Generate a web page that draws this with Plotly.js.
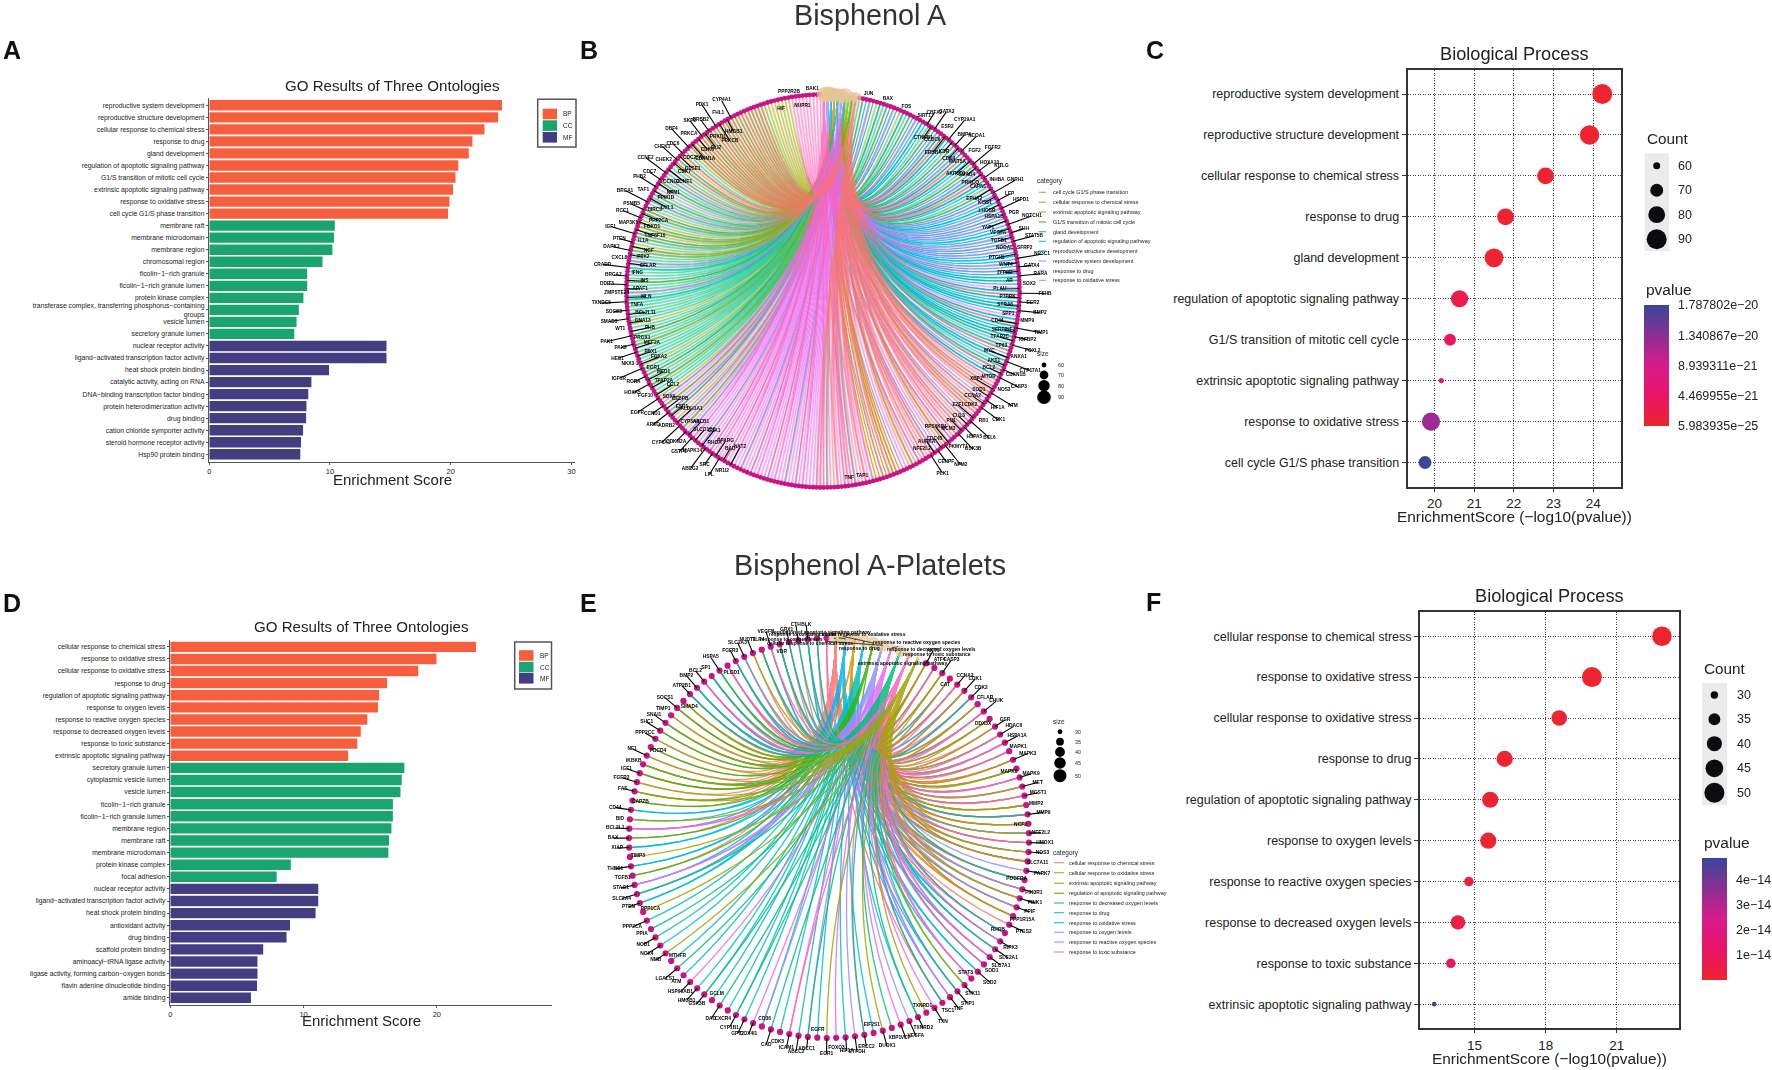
<!DOCTYPE html>
<html>
<head>
<meta charset="utf-8">
<script src="https://cdn.plot.ly/plotly-3.0.1.min.js"></script>
<style>html,body{margin:0;padding:0;background:#fff}#chart{width:1772px;height:1070px}</style>
</head>
<body>
<div id="chart"></div>
<script>
// ---------- DATA: panel A ----------
const termsA = ["reproductive system development","reproductive structure development","cellular response to chemical stress","response to drug","gland development","regulation of apoptotic signaling pathway","G1/S transition of mitotic cell cycle","extrinsic apoptotic signaling pathway","response to oxidative stress","cell cycle G1/S phase transition",
"membrane raft","membrane microdomain","membrane region","chromosomal region","ficolin−1−rich granule","ficolin−1−rich granule lumen","protein kinase complex","transferase complex, transferring phosphorus−containing<br>groups","vesicle lumen","secretory granule lumen",
"nuclear receptor activity","ligand−activated transcription factor activity","heat shock protein binding","catalytic activity, acting on RNA","DNA−binding transcription factor binding","protein heterodimerization activity","drug binding","cation chloride symporter activity","steroid hormone receptor activity","Hsp90 protein binding"];
const scoresA = [24.25,23.93,22.8,21.8,21.5,20.63,20.4,20.2,19.9,19.78,10.4,10.33,10.2,9.38,8.11,8.11,7.8,7.42,7.23,7.04,14.68,14.68,9.92,8.46,8.2,8.05,8.02,7.77,7.6,7.54];
// ---------- DATA: panel D ----------
const termsD = ["cellular response to chemical stress","response to oxidative stress","cellular response to oxidative stress","response to drug","regulation of apoptotic signaling pathway","response to oxygen levels","response to reactive oxygen species","response to decreased oxygen levels","response to toxic substance","extrinsic apoptotic signaling pathway",
"secretory granule lumen","cytoplasmic vesicle lumen","vesicle lumen","ficolin−1−rich granule","ficolin−1−rich granule lumen","membrane region","membrane raft","membrane microdomain","protein kinase complex","focal adhesion",
"nuclear receptor activity","ligand−activated transcription factor activity","heat shock protein binding","antioxidant activity","drug binding","scaffold protein binding","aminoacyl−tRNA ligase activity","ligase activity, forming carbon−oxygen bonds","flavin adenine dinucleotide binding","amide binding"];
const scoresD = [22.93,19.97,18.6,16.27,15.67,15.58,14.78,14.29,14.03,13.34,17.56,17.36,17.27,16.7,16.7,16.59,16.41,16.36,9.04,7.98,11.1,11.1,10.9,8.98,8.72,6.97,6.54,6.54,6.51,6.05];
const ontologies = ["BP","CC","MF"];
// ---------- DATA: panels C and F ----------
const termsC = termsA.slice(0,10);
const enrichC = [24.23,23.91,22.8,21.79,21.5,20.63,20.39,20.17,19.91,19.76];
const countC = [90,88,80,80,86,81,68,58,84,70];
const pvalC_e21 = [0.0006,0.0012,0.016,0.16,0.32,2.3,4.0,6.8,12.3,17.4];
const countKeyC = [60,70,80,90];
const pTicksC = [0.0006,4.47,8.94,13.41,17.878];
const pLabelsC = ["5.983935e−25","4.469955e−21","8.939311e−21","1.340867e−20","1.787802e−20"];
const termsF = termsD.slice(0,10);
const enrichF = [22.9,19.95,18.57,16.27,15.66,15.58,14.76,14.3,14.0,13.3];
const countF = [49,50,41,42,42,42,32,39,32,28];
const pvalF_e14 = [0,0.001,0.00003,0.0054,0.022,0.026,0.17,0.5,1.0,4.84];
const countKeyF = [30,35,40,45,50];
const pTicksF = [1,2,3,4];
const pLabelsF = ["1e−14","2e−14","3e−14","4e−14"];
// ---------- DATA: network B (gene sectors run clockwise from the hubs; digits = category index) ----------
const categoriesB = ["cell cycle G1/S phase transition","cellular response to chemical stress","extrinsic apoptotic signaling pathway","G1/S transition of mitotic cell cycle","gland development","regulation of apoptotic signaling pathway","reproductive structure development","reproductive system development","response to drug","response to oxidative stress"];
const hubOrderB = [9,7,6,1,5,8,4,2,3,0];
const drawOrderB = [7,6,1,4,5,3,2,8,9,0];
const hubCountB = [70,80,58,68,86,81,88,90,80,84];
const sectorCountsB = [19,28,24,19,12,16,22,8,18,38,14,26,16,14,11,9,24,8,9];
const sectorLinksB = [
 "4 62 6 84 6 2 64","64 6 4 62 6 84 64 09","6 68 6 65 6 84 6 69","6 65 64 6 8 65 07 64","47 5 47 40 7 65","07 0 07 02 09 0 7",
 "07 09 0 08 0 79 0 03 0 8 7","1 01 12 08 1 07 1","08 8 09 0 8 04 89 08","8 8 89 8 81 8 8 84 8 8 89 8 81","84 8 42 8 84 2 8 14",
 "4 4 4 42 4 4 41 4 4 2 4 4","4 4 45 4 48 4 4 41 4","25 52 2 5 25 51 2","5 50 5 52 5 0 5 52","20 5 2 50 52 0","03 03 03 02 03","3 2 2 2 2 2 2 2","9"];
const labelsLeftB = ["CYP4A1","HMGB1","FHL1","PRKCB","PDK1","PRKD1","ERBB2","GLI2","SKP2","CDK6","PRKCA","CDKN1A","DBF4","CDC25A","CDC6","GTSE1","CHEK1","CDK7","CHEK2","CCNE1","CCNE2","CCNG2","CDC7","NPM1","PHB2","PPM1D","TAF1","CUL1","BRCA1","BIRC5","PSMB5","PPP2CA","RCC1","FOXO1","MAP3K5","TNFSF10","IGF1","IL1A","PTEN","NGF","DAPK2","PTK2","CXCL8","CFLAR","CRADD","IFNG","BRCA2","INS","DDIT3","APAF1","ZMPSTE24","MLN","TXNDC5","TNFA","SOCS3","BCL2L11","SMAD3","GNA13","WT1","PHB","PAK1","PROX1","PAX2","MEF2A","HES1","PBX1","NKX3-1","FOXA2","IGF1R","EGR1","RORA","MED1","HOXA5","TFAP2A","FGF10","CCL2","EGFR","SOX9","CCND1","CEBPB","AREG","ESR1","ADRB2","ALDH1A1","CYP1A1","CYP3A4","CDKN2A","ABCB1","GSTP1","SLCO1B1","MAPK14","GJA1","ABCG2","RHOA","SRC","PPARG","LPL","BAD","NR1I2","NAT2"];
const labelsRightB = ["CBFA2","CTNNB1","GATA3","CCDC6","ESR2","ERBB4","CYP19A1","KDR","BMP4","CDK4","NCOA1","WNT5A","FGF2","AKR1C3","FGFR2","SMAD4","HOXA10","PRKCQ","KITLG","CAPN1","INHBA","EPHA2","GNRH1","KISS1","LEP","LHCGR","HSPD1","HSPA1B","PGR","YAP1","NOTCH1","VEGFA","SHH","TGFB1","STAT5B","NODAL","SFRP2","PTCH1","NR3C1","WNT4","GATA4","ZFPM2","RARA","AR","SOX2","PLAU","FSHB","PTPRK","EGR2","STRA8","BMP2","SPP1","MMP9","CD44","TIMP1","SERPINE1","IGFBP2","TFAP2C","FOXL2","TP63","ANXA1","MYC","CYP17A1","AKT1","CDKN1B","BCL2","CASP3","MTOR","NOS3","XBP1","ATM","SOD1","HIF1A","CCNA2","CDK1","CDK2","RB1","E2F1","BCL6","CUL3","HSPA5","PML","GSK3B","MCM3","PKMYT1","RPS6KB1","NPM2","CDC45","CENPF","AURKA","PLK1","NFE2L2"];
const labelsTopRightB = ["JUN","BAX","FOS","SIRT1"];
const labelsTopLeftB = ["HIF","PPP2R2B","NUPR1","BAK1"];
const labelsBottomB = ["TNF","TAP1"];
const sizeKeyB = [60,70,80,90];
// ---------- DATA: network E (one link string per gene, clockwise from the hubs) ----------
const categoriesE = ["cellular response to chemical stress","cellular response to oxidative stress","extrinsic apoptotic signaling pathway","regulation of apoptotic signaling pathway","response to decreased oxygen levels","response to drug","response to oxidative stress","response to oxygen levels","response to reactive oxygen species","response to toxic substance"];
const hubOrderE = [0,6,1,5,3,7,8,4,9,2];
const hubCountE = [49,41,28,42,39,42,50,42,32,32];
const genesE = ["AKT1","ATF4","CASP3","CAT","CCNA2","CDK1","CDK2","CFLAR","CHUK","DDX3X","GSR","HDAC6","HSPA1A","MAPK1","MAPK3","MAPK8","MAPK9","MET","MGST1","MMP2","MMP9","NCF2","NFE2L2","HMOX1","NOS3","SLC7A11","PARK7","PDGFRA","PIK3R1","PINK1","PPIF","PPP1R15A","PTGS2","RHOB","RIPK3","SLC2A1","SLC7A1","SOD1","SOD2","STAT3","STK11","STIP1","TNF","TSC1","TXN","TXNRD1","TXNRD2","VEGFA","VCP","XBP1","DUOX1","EIF2S1","ERCC2","ETFDH","HIF1A","FOXO3","EGR1","EGFR","ABCC1","ABCC2","ICAM1","CDK5","CAD","CD36","COX4I1","GPT2","CYP1B1","CXCR4","DAO","GCLM","GSK3B","HMGB1","HSP90AB1","ATM","LGALS1","MTHFR","NMB","NOX4","NOD1","PPIA","PPP2CA","PPP1CA","PTEN","SLC2A4","STAG1","TGFB1","THBS1","TIMP3","XIAP","BAX","BCL2L1","BID","CD44","CAPZB","FAS","FGFR2","IGF1","IKBKB","NF1","PDCD4","PPP2CC","SHC1","SNAI1","TIMP1","SOCS1","SMAD4","ATP2B1","BMP2","BCL2","SP1","HSPA5","PLOD1","FGFR3","SLC2A3","NUDT1","TLR4","VEGFB","VDR","GPX1","CTH","BLK"];
const linksE = ["0239","0169","0216","0269","0169","0269","0478","1269","01679","0216","029","0169",
 "01689","0169","0129","0216","01689","0278","0169","0216","01468","0129","0267",
 "0169","0127","01269","7","01468","0167","1268","0167","0129",
 "0","0478","569","457","0689","479","56","689","24","467","678","048",
 "8","2","45","7","8","4","2","5","48","7","5","8","2","5","47","5","89","5","4","57","8","5","45",
 "5","4","5","45","5","8","5","4","5","2","5","5","4","5","2",
 "56","457","678","03","56","2","56","03","689","25","56","03",
 "023","02","013","0234","02","03","02","03","0234","02","013","023",
 "0347","0467","0689","0347","034","0389","0467","037","02","0347","069","0347","047","04","0467","047","09"];
const sizeKeyE = [30,35,40,45,50];

// ---------- STYLE AND LAYOUT ----------
const W=1772,H=1070;
const fx=p=>p/W, fy=p=>1-p/H;
const FONT='"Liberation Sans", Arial, sans-serif';
const INK='#222';
const ontoColors=['#F55F3D','#1AA56F','#443D82'];
const hue=["#F8766D","#D89000","#A3A500","#39B600","#00BF7D","#00BFC4","#00B0F6","#9590FF","#E76BF3","#FF62BC"];
const nodeColor='#C71585', hubColor='#E5C494';
const pScale=[[0,'#ee2430'],[0.25,'#ea1466'],[0.5,'#d81b8c'],[0.75,'#8a2f92'],[1,'#37479c']];
const dotC=c=>Math.sqrt(Math.max(14,49+11.7*(c-60)));
const dotF=c=>Math.sqrt(Math.max(14,56+17.2*(c-30)));

const traces=[], shapes=[], annotations=[];
const layout={width:W,height:H,margin:{l:0,r:0,t:0,b:0,pad:0},paper_bgcolor:'#fff',plot_bgcolor:'rgba(0,0,0,0)',
  showlegend:false,hovermode:false,font:{family:FONT,color:INK}};

function text(t,x,y,size,opt={}){
  annotations.push(Object.assign({text:t,xref:'paper',yref:'paper',x:fx(x),y:fy(y),showarrow:false,xanchor:'center',yanchor:'middle',font:{size:size,family:FONT,color:INK}},opt));
}
function rect(x0,y0,x1,y1,fill,line,lw){
  shapes.push({type:'rect',xref:'paper',yref:'paper',x0:fx(x0),x1:fx(x1),y0:fy(y1),y1:fy(y0),fillcolor:fill,line:{color:line||fill,width:lw||0},layer:'above'});
}
function circle(cx,cy,d,fill){
  shapes.push({type:'circle',xref:'paper',yref:'paper',x0:fx(cx-d/2),x1:fx(cx+d/2),y0:fy(cy+d/2),y1:fy(cy-d/2),fillcolor:fill,line:{width:0},layer:'above'});
}

// bar panels
function barPanel(n,terms,scores,box,rowRange,xmax,ticks,titleY,keyBox,keySw,keyTextX,keyRows,xTitleY){
  const xa='xaxis'+(n===1?'':n), ya='yaxis'+(n===1?'':n), xr='x'+(n===1?'':n), yr='y'+(n===1?'':n);
  ontologies.forEach((o,k)=>{
    traces.push({type:'bar',orientation:'h',name:o,xaxis:xr,yaxis:yr,x:scores.slice(k*10,k*10+10),y:terms.slice(k*10,k*10+10),width:0.86,
      marker:{color:ontoColors[k],line:{color:ontoColors[k],width:0}}});
  });
  layout[xa]={domain:[fx(box[0]),fx(box[1])],range:[0,xmax],anchor:yr,tickvals:ticks,ticktext:ticks.map(String),tickfont:{size:7.5,family:FONT,color:INK},ticks:'outside',ticklen:2,tickcolor:'#555',
    showgrid:false,zeroline:false,showline:true,linecolor:'#555',linewidth:1.5,automargin:false};
  layout[ya]={domain:[fy(box[3]),fy(box[2])],type:'category',categoryorder:'array',categoryarray:terms,range:rowRange,anchor:xr,tickfont:{size:6.8,family:FONT,color:INK},ticks:'outside',ticklen:2,tickcolor:'#555',
    showgrid:false,zeroline:false,showline:true,linecolor:'#555',linewidth:1.5,automargin:false,tickmode:'array',tickvals:terms,ticktext:terms};
  text('GO Results of Three Ontologies',(box[4]),titleY,15.1);
  text('Enrichment Score',box[4],xTitleY,15);
  rect(keyBox[0],keyBox[1],keyBox[2],keyBox[3],'rgba(255,255,255,0)','#555',1.5);
  ontologies.forEach((o,k)=>{
    rect(keySw[0],keyRows[k],keySw[1],keyRows[k]+10.6,ontoColors[k]);
    text(o,keyTextX,keyRows[k]+5.3,6.5,{xanchor:'left'});
  });
}
barPanel(1,termsA,scoresA,[209.3,575,98.3,461.7,392],[29.615,-0.58],30.3,[0,10,20,30],85.7,[537.7,99.3,576,147],[542.7,557],561.4,[108.7,120.3,132],479.7);
barPanel(4,termsD,scoresD,[170.3,551.9,640.3,1004.6,361],[29.56,-0.54],28.63,[0,10,20],626.7,[514.7,642,551.5,689],[519,533.5],537.7,[650.2,661.8,673],1020);

// dot panels
function dotPanel(n,terms,enrich,counts,colorVals,cmax,box,xrange,ticks,rowRange,dot,key,pTicks,pLabels,barBox,titleX,titleY,xTitleY){
  const xr='x'+n,yr='y'+n;
  traces.push({type:'scatter',mode:'markers',xaxis:xr,yaxis:yr,x:enrich,y:terms,name:'Biological Process',
    marker:{size:counts.map(dot),color:colorVals,colorscale:pScale,cmin:0,cmax:cmax,line:{width:0},opacity:1,showscale:true,
      colorbar:{x:fx(barBox[0]),xanchor:'left',y:fy(barBox[3]),yanchor:'bottom',len:barBox[3]-barBox[2],lenmode:'pixels',thickness:barBox[1]-barBox[0],thicknessmode:'pixels',
        tickmode:'array',tickvals:pTicks,ticktext:pLabels,ticks:'outside',ticklen:7,tickcolor:'rgba(0,0,0,0)',outlinewidth:0,xpad:0,ypad:0,tickfont:{size:12.5,family:FONT,color:INK}}}});
  const barH=barBox[3]-barBox[2];
  pTicks.forEach(v=>{
    const yy=barBox[3]-v/cmax*barH;
    [[barBox[0],barBox[0]+5],[barBox[1]-5,barBox[1]]].forEach(seg=>{
      shapes.push({type:'line',xref:'paper',yref:'paper',x0:fx(seg[0]),x1:fx(seg[1]),y0:fy(yy),y1:fy(yy),line:{color:'rgba(255,255,255,0.75)',width:1},layer:'above'});
    });
  });
  text('pvalue',barBox[0],barBox[2]-16,15.5,{xanchor:'left'});
  const gridDash='1px,1.5px';
  layout['xaxis'+n]={domain:[fx(box[0]),fx(box[1])],range:xrange,anchor:yr,tickvals:ticks,ticktext:ticks.map(String),tickfont:{size:13.5,family:FONT,color:INK},ticks:'outside',ticklen:3,tickcolor:'#333',
    showgrid:true,griddash:gridDash,gridcolor:'#444',gridwidth:1,zeroline:false,showline:true,mirror:true,linecolor:'#333',linewidth:2,automargin:false};
  layout['yaxis'+n]={domain:[fy(box[3]),fy(box[2])],type:'category',categoryorder:'array',categoryarray:terms,range:rowRange,anchor:xr,tickfont:{size:12.5,family:FONT,color:INK},ticks:'outside',ticklen:4,tickcolor:'#333',
    showgrid:true,griddash:gridDash,gridcolor:'#444',gridwidth:1,zeroline:false,showline:true,mirror:true,linecolor:'#333',linewidth:2,automargin:false};
  text('Biological Process',titleX,titleY,18.2);
  text('EnrichmentScore (−log10(pvalue))',titleX,xTitleY,15.4);
  rect(key.bg[0],key.bg[1],key.bg[2],key.bg[3],'#EBEBEB');
  text('Count',key.bg[0],key.titleY,15.3,{xanchor:'left'});
  key.counts.forEach((c,i)=>{
    circle(key.cx,key.ys[i],dot(c),'#0b0b10');
    text(String(c),key.tx,key.ys[i],12.5,{xanchor:'left'});
  });
}
dotPanel(3,termsC,enrichC,countC,pvalC_e21,17.878,[1407.6,1621.3,70,486.7],[19.32,24.71],[20,21,22,23,24],[9.59,-0.586],dotC,
  {bg:[1644.6,153.3,1669,251],titleY:138.3,cx:1656.7,tx:1676,counts:countKeyC,ys:[165.7,190.3,214.7,239.3]},pTicksC,pLabelsC,[1644,1669,305,426],1514.5,54,516.7);
dotPanel(6,termsF,enrichF,countF,pvalF_e14,4.84,[1420,1679,611.7,1028.3],[12.70,23.62],[15,18,21],[9.59,-0.6],dotF,
  {bg:[1702,683,1727,805],titleY:668.3,cx:1714.4,tx:1734.5,counts:countKeyF,ys:[695,719.3,743.7,768.3,792.7]},pTicksF,pLabelsF,[1702,1727,858.3,980],1549.5,596,1058);

// network panels
function pt(deg,r){const a=deg*Math.PI/180;return [r*Math.sin(a),r*Math.cos(a)];}
function bezier(p,h){ // quadratic curve bent through the circle centre, as a circular cnet layout draws it
  const xs=[],ys=[];
  for(let i=0;i<=22;i++){const t=i/22,u=1-t;xs.push(u*u*p[0]+t*t*h[0]);ys.push(u*u*p[1]+t*t*h[1]);}
  xs.push(null);ys.push(null);return [xs,ys];
}
function network(n,links,hubOrder,drawOrder,hubSize,startDeg,cx,cy,R,span,lineW,lineOp,nodeSize,names){
  const xr='x'+n,yr='y'+n;
  layout['xaxis'+n]={domain:[fx(cx-span*R),fx(cx+span*R)],range:[-span,span],visible:false,anchor:yr};
  layout['yaxis'+n]={domain:[fy(cy+span*R),fy(cy-span*R)],range:[-span,span],visible:false,anchor:xr};
  const step=360/(links.length+hubOrder.length);
  const hubAt={};hubOrder.forEach((c,i)=>{hubAt[c]=pt(startDeg+i*step,1);});
  const geneAng=links.map((_,i)=>startDeg+(i+hubOrder.length)*step);
  drawOrder.forEach(c=>{
    let X=[],Y=[];
    links.forEach((l,i)=>{ if(l.includes(String(c))){const b=bezier(pt(geneAng[i],1),hubAt[c]);X=X.concat(b[0]);Y=Y.concat(b[1]);} });
    traces.push({type:'scatter',mode:'lines',xaxis:xr,yaxis:yr,x:X,y:Y,name:names[c],opacity:lineOp,line:{color:hue[c],width:lineW,simplify:false},hoverinfo:'skip'});
  });
  const nodes=geneAng.map(a=>pt(a,1));
  traces.push({type:'scatter',mode:'markers',xaxis:xr,yaxis:yr,x:nodes.map(p=>p[0]),y:nodes.map(p=>p[1]),cliponaxis:false,marker:{size:nodeSize,color:nodeColor,line:{width:0}},name:'genes'});
  const hubs=hubOrder.map(c=>hubAt[c]);
  traces.push({type:'scatter',mode:'markers',xaxis:xr,yaxis:yr,x:hubs.map(p=>p[0]),y:hubs.map(p=>p[1]),cliponaxis:false,marker:{size:hubOrder.map(c=>hubSize[c]),color:hubColor,line:{width:0}},name:'terms'});
  return {hubAt,geneAng};
}
function expandSectors(counts,patterns){
  const out=[];
  counts.forEach((c,i)=>{const p=patterns[i].split(' ');for(let k=0;k<c;k++)out.push(p[k%p.length]);});
  return out;
}
function labelTrace(n,names,angles,radii,size){
  const lx=[],ly=[],tx=[],ty=[];
  names.forEach((s,i)=>{
    const r=radii[i%radii.length],q=pt(angles[i],r),p=pt(angles[i],1);
    tx.push(q[0]);ty.push(q[1]);
    if(Math.abs(r-1)>0.055){lx.push(p[0],q[0]*0.985+p[0]*0.015,null);ly.push(p[1],q[1]*0.985+p[1]*0.015,null);}
  });
  traces.push({type:'scatter',mode:'lines',xaxis:'x'+n,yaxis:'y'+n,x:lx,y:ly,line:{color:'#000',width:1.1},cliponaxis:false,name:'leaders'});
  traces.push({type:'scatter',mode:'text',xaxis:'x'+n,yaxis:'y'+n,x:tx,y:ty,text:names,cliponaxis:false,textposition:'middle center',textfont:{size:size,family:FONT,color:'#000',weight:'bold'},name:'gene labels'});
}
function spread(names,a,b){return names.map((_,i)=>a+(b-a)*i/Math.max(1,names.length-1));}
function catKey(names,titleX,titleY,lx0,lx1,tx,rows){
  text('category',titleX,titleY,6.5);
  names.forEach((s,i)=>{
    shapes.push({type:'line',xref:'paper',yref:'paper',x0:fx(lx0),x1:fx(lx1),y0:fy(rows[i]),y1:fy(rows[i]),line:{color:hue[i],width:1.2},opacity:0.85});
    text(s,tx,rows[i],5.4,{xanchor:'left'});
  });
}
function sizeKey(vals,sizeFn,titleX,titleY,cx,tx,rows){
  text('size',titleX,titleY,6.5);
  vals.forEach((v,i)=>{circle(cx,rows[i],sizeFn(v),'#000');text(String(v),tx,rows[i],5.4,{xanchor:'left'});});
}

// B
const linksB=expandSectors(sectorCountsB,sectorLinksB);
network(2,linksB,hubOrderB,drawOrderB,hubCountB.map(c=>0.8*dotC(c)),0.3,823,291,196.5,1.25,1.3,0.82,4.8,categoriesB);
labelTrace(2,labelsLeftB,spread(labelsLeftB,332,208),[1.1,0.93,1.05,0.9,1.13,0.95,1.07,0.91],4.8);
labelTrace(2,labelsRightB,spread(labelsRightB,32,148),[1.07,0.93,1.11,0.95,1.05,0.9,1.13,0.94],4.8);
labelTrace(2,labelsTopRightB,spread(labelsTopRightB,13,30),[1.03],4.8);
labelTrace(2,labelsTopLeftB,spread(labelsTopLeftB,-13,-3),[0.95,1.03],4.8);
labelTrace(2,labelsBottomB,spread(labelsBottomB,172,168),[0.96],4.8);
catKey(categoriesB,1050,181,1038.7,1046,1050.6,[192.3,202.3,212,222,231.7,241.3,251,261,270.7,280.3]);
sizeKey(sizeKeyB,c=>0.68*dotC(c),1043,354,1044,1056,[365,375,385.7,397.3]);

// E
const resE=network(5,linksE,hubOrderE,hubOrderE,hubCountE.map(c=>0.78*dotF(c)),2,829,838,200,1.15,1.35,0.85,6.2,categoriesE);
labelTrace(5,genesE,resE.geneAng.slice(0,genesE.length),[1.07,1.05,1.08,0.96,1.06,1.08],4.9);
const hubLabelPx={0:[810,643],6:[803,634],1:[862,634],5:[860,648],3:[822,632],7:[792,639],8:[917,642],4:[932,649],9:[937,654],2:[903,663]};
hubOrderE.forEach(c=>{
  const h=resE.hubAt[c],q=hubLabelPx[c];
  annotations.push({text:categoriesE[c],xref:'x5',yref:'y5',x:h[0],y:h[1],ax:q[0]-(829+h[0]*200),ay:q[1]-(838-h[1]*200),showarrow:true,arrowhead:0,arrowwidth:0.7,arrowcolor:'#000',font:{size:5,family:FONT,color:'#000',weight:'bold'}});
});
catKey(categoriesE,1065.7,852.7,1054,1064,1067,[862.7,872.7,883.3,893.3,903,912.7,922.7,932.3,942,952]);
sizeKey(sizeKeyE,c=>0.65*dotF(c),1059,721,1060,1072.6,[731.7,741.7,752,763,775.7]);

// titles and panel letters
text('Bisphenol A',870,15.5,28.8,{font:{size:28.8,family:FONT,color:'#333'}});
text('Bisphenol A-Platelets',870,565,28.8,{font:{size:28.8,family:FONT,color:'#333'}});
[['A',11.5,50],['B',589,50],['C',1155,50],['D',11.5,603],['E',588,603],['F',1153,602]].forEach(l=>{
  text('<b>'+l[0]+'</b>',l[1],l[2],25,{font:{size:25,family:FONT,color:'#111'}});
});
layout.shapes=shapes;layout.annotations=annotations;
Plotly.newPlot('chart',traces,layout,{displayModeBar:false,staticPlot:true,responsive:false});
</script>
</body>
</html>
